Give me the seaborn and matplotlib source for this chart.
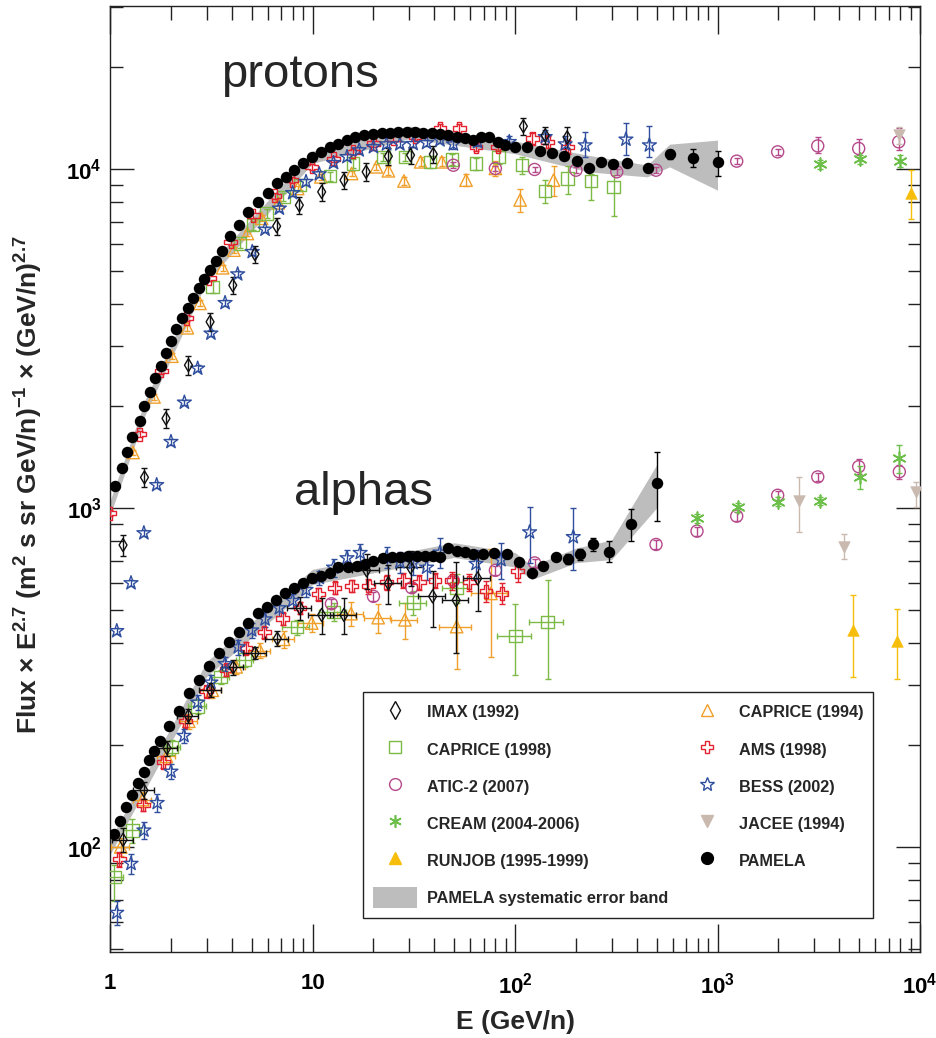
import numpy as np
import pandas as pd
import matplotlib
matplotlib.use("Agg")
import matplotlib.pyplot as plt
from matplotlib.lines import Line2D
from matplotlib.patches import Patch
from matplotlib.ticker import LogLocator, FuncFormatter, NullFormatter
import seaborn as sns

# ---------------------------------------------------------------- data
# PAMELA protons
p_pam_E = [1.06, 1.14, 1.21, 1.29, 1.40, 1.48, 1.58, 1.67, 1.78, 1.88, 2.00, 2.12, 2.26, 2.42,
           2.58, 2.74, 2.91, 3.12, 3.34, 3.56, 3.91, 4.35, 4.82, 5.40, 6.01, 6.70, 7.40, 8.10,
           9.01, 9.98, 11.0, 12.2, 13.4, 14.8, 16.2, 18.0, 20.0, 22.0, 24.2, 26.5, 29.2, 32.1,
           35.3, 38.8, 42.6, 46.9, 51.5, 56.6, 61.8, 67.9, 74.4, 82.2, 89.6, 100.3, 114.6, 133,
           152, 174, 202, 233, 266, 306, 359, 452, 582, 755, 1009]
p_pam_F = [1161, 1312, 1463, 1619, 1805, 2000, 2198, 2417, 2624, 2866, 3110, 3373, 3634, 3890,
           4162, 4457, 4742, 5035, 5354, 5750, 6339, 6839, 7465, 7994, 8494, 9094, 9471, 9932,
           10420, 10850, 11220, 11610, 11850, 12180, 12420, 12590, 12680, 12760, 12760, 12850,
           12850, 12850, 12760, 12760, 12680, 12590, 12420, 12330, 12180, 12420, 12420, 12010,
           11770, 11610, 11610, 11300, 11140, 10920, 10560, 10070, 10490, 10340, 10420, 10070,
           11070, 10770, 10490]
p_pam_dlo = [350, 630, 950]          # errors of the last three points
p_pam_dhi = [350, 690, 810]
p_band_E = [1.0, 1.5, 3.0, 10, 30, 100, 230, 450, 580, 1000]
p_band_lo = [950, 1900, 4650, 10400, 12300, 11100, 9820, 9490, 10160, 8670]
p_band_hi = [1050, 2100, 5100, 11300, 13400, 12100, 10990, 10280, 11850, 12180]

# PAMELA alphas
a_pam_E = [1.05, 1.12, 1.20, 1.29, 1.37, 1.47, 1.56, 1.65, 1.77, 1.96, 2.20, 2.46, 2.76, 3.09,
           3.46, 3.88, 4.35, 4.82, 5.36, 5.94, 6.60, 7.32, 8.10, 9.01, 9.91, 11.0, 12.2, 13.4,
           14.9, 16.5, 18.2, 20.0, 22.2, 24.6, 27.0, 29.7, 32.7, 35.9, 39.5, 42.6, 46.9, 51.5,
           56.6, 61.8, 69.2, 79.1, 91.0, 105, 121, 138, 159, 183, 210, 242, 290, 374, 503]
a_pam_F = [109, 119, 131, 142, 154, 167, 180, 192, 206, 228, 252, 284, 312, 343, 374, 402, 430,
           458, 490, 509, 535, 563, 582, 600, 623, 631, 643, 668, 668, 676, 685, 699, 712, 716,
           716, 720, 724, 724, 720, 716, 762, 748, 742, 730, 730, 739, 730, 693, 643, 673, 715,
           708, 730, 781, 744, 897, 1185]
a_pam_dlo = [25, 28, 35, 51, 96, 269]   # errors of the last six points
a_pam_dhi = [25, 28, 35, 57, 96, 277]
a_band_E = [1.0, 3.0, 10, 50, 100, 121, 200, 300, 500]
a_band_lo = [95, 318, 595, 715, 670, 615, 690, 705, 1000]
a_band_hi = [105, 352, 660, 790, 740, 675, 762, 805, 1340]

# IMAX (1992)
p_imax_E = [1.16, 1.48, 1.89, 2.44, 3.12, 4.04, 5.20, 6.65, 8.61, 11.1, 14.3, 18.4, 23.7, 30.5, 39.5, 110, 141, 181]
p_imax_F = [778, 1232, 1839, 2641, 3545, 4545, 5614, 6790, 7830, 8570, 9280, 9820, 10920, 11000, 11070, 13390, 12590, 12410]
p_imax_err = [0.07, 0.065, 0.065, 0.065, 0.06, 0.06, 0.06, 0.06, 0.06, 0.06, 0.06, 0.06, 0.06, 0.06, 0.06, 0.06, 0.06, 0.07]
a_imax_E = [1.16, 1.47, 1.91, 2.44, 3.14, 4.06, 5.20, 6.70, 8.67, 11.1, 14.3, 18.5, 23.7, 30.5, 39.2, 51.2, 65.4]
a_imax_F = [105, 147, 196, 244, 291, 339, 373, 412, 507, 484, 484, 655, 600, 668, 549, 535, 620]
a_imax_err = [0.08, 0.06, 0.05, 0.05, 0.05, 0.05, 0.04, 0.05, 0.08, 0.12, 0.12, 0.12, 0.13, 0.12, 0.19, 0.3, 0.2]
a_imax_xerr = [0.12, 0.12, 0.12, 0.12, 0.12, 0.12, 0.13, 0.13, 0.14, 0.14, 0.15, 0.15, 0.15, 0.15, 0.15, 0.15, 0.15]

# CAPRICE (1994)
p_c94_E = [1.30, 1.65, 2.02, 2.41, 2.78, 3.60, 4.09, 4.77, 5.61, 6.78, 8.45, 11.0, 15.6, 20.7, 23.7, 28.3, 34.2, 43.5, 57.3, 80.0, 106, 155]
p_c94_F = [1459, 2128, 2806, 3404, 4018, 5117, 5768, 6459, 7160, 7955, 8770, 9490, 9710, 10160, 9890, 9230, 10510, 10510, 9280, 10050, 8110, 9280]
p_c94_err = [0.02, 0.02, 0.02, 0.02, 0.02, 0.02, 0.02, 0.02, 0.02, 0.02, 0.02, 0.02, 0.02, 0.02, 0.03, 0.03, 0.03, 0.03, 0.04, 0.05, 0.08, 0.10]
a_c94_E = [1.13, 1.45, 1.90, 2.45, 3.20, 4.20, 5.50, 7.20, 9.91, 15.5, 21.1, 28.6, 51.5, 76]
a_c94_F = [100, 138, 185, 235, 290, 340, 380, 410, 458, 488, 475, 468, 447, 560]
a_c94_err = [0.06, 0.05, 0.05, 0.05, 0.05, 0.05, 0.05, 0.06, 0.06, 0.08, 0.1, 0.12, 0.25, 0.35]
a_c94_xerr = [0.1, 0.1, 0.1, 0.1, 0.1, 0.1, 0.12, 0.12, 0.14, 0.15, 0.15, 0.15, 0.18, 0.2]

# CAPRICE (1998)
p_c98_E = [3.21, 4.39, 5.10, 5.94, 7.18, 8.67, 12.2, 15.9, 22.4, 28.6, 38.0, 48.7, 64.2, 83.0, 108, 141, 182, 237, 307]
p_c98_F = [4498, 6038, 6840, 7395, 8280, 8970, 9530, 10390, 10870, 10870, 10510, 10680, 10390, 10870, 10270, 8630, 9390, 9230, 8870]
p_c98_lo = [0.04, 0.03, 0.03, 0.03, 0.03, 0.03, 0.03, 0.03, 0.03, 0.03, 0.04, 0.04, 0.04, 0.05, 0.06, 0.08, 0.10, 0.12, 0.18]
p_c98_hi = [0.04, 0.03, 0.03, 0.03, 0.03, 0.03, 0.03, 0.03, 0.03, 0.03, 0.04, 0.04, 0.04, 0.05, 0.06, 0.08, 0.09, 0.05, 0.08]
a_c98_E = [1.05, 1.29, 2.02, 2.71, 3.52, 4.64, 8.36, 12.7, 31.5, 51.5, 100.4, 145]
a_c98_F = [81.7, 112, 197, 260, 318, 357, 445, 494, 526, 582, 419, 461]
a_c98_lo = [0.15, 0.08, 0.05, 0.05, 0.05, 0.05, 0.05, 0.06, 0.08, 0.1, 0.23, 0.32]
a_c98_hi = [0.08, 0.08, 0.05, 0.05, 0.05, 0.05, 0.05, 0.06, 0.08, 0.1, 0.24, 0.33]
a_c98_xerr = [0.1, 0.1, 0.1, 0.1, 0.1, 0.1, 0.15, 0.15, 0.15, 0.15, 0.19, 0.19]

# ATIC-2 (2007)
p_atic_E = [49.6, 80.0, 125, 200, 318, 497, 1244, 1982, 3126, 4980, 7850]
p_atic_F = [10270, 10050, 9980, 9930, 9820, 9930, 10560, 11250, 11710, 11510, 12040]
p_atic_lo = [0.02, 0.02, 0.02, 0.02, 0.02, 0.02, 0.02, 0.02, 0.05, 0.045, 0.055]
p_atic_hi = [0.02, 0.02, 0.02, 0.02, 0.02, 0.02, 0.02, 0.02, 0.065, 0.065, 0.095]
a_atic_E = [12.4, 20.0, 30.9, 49.6, 80.0, 125, 497, 792, 1244, 1982, 3126, 4980, 7905]
a_atic_F = [522, 549, 582, 611, 655, 689, 781, 855, 947, 1091, 1236, 1325, 1280]
a_atic_err = [0.03, 0.03, 0.03, 0.03, 0.03, 0.03, 0.03, 0.03, 0.03, 0.03, 0.03, 0.05, 0.05]

# CREAM (2004-2006)
p_cream_E = [3208, 5058, 7965]
p_cream_F = [10340, 10680, 10560]
p_cream_err = [0.03, 0.03, 0.04]
a_cream_E = [792, 1257, 1995, 3208, 5058, 7905]
a_cream_F = [934, 1005, 1044, 1050, 1236, 1403]
a_cream_err = [0.03, 0.03, 0.03, 0.03, 0.08, 0.095]

# RUNJOB (1995-1999)
p_runjob_E = [9030]
p_runjob_F = [8510]
p_runjob_lo = [0.16]
p_runjob_hi = [0.17]
a_runjob_E = [4650, 7670]
a_runjob_F = [436, 406]
a_runjob_lo = [0.27, 0.23]
a_runjob_hi = [0.27, 0.24]

# JACEE (1994)
p_jacee_E = [7905]
p_jacee_F = [12590]
p_jacee_lo = [0.055]
p_jacee_hi = [0.06]
a_jacee_E = [2518, 4230, 9550]
a_jacee_F = [1050, 767, 1119]
a_jacee_lo = [0.19, 0.08, 0.1]
a_jacee_hi = [0.18, 0.09, 0.07]

# AMS (1998)
p_ams_E = [1.00, 1.40, 1.79, 2.39, 3.09, 3.95, 5.1, 6.5, 7.89, 9.91, 12.7, 15.9, 20.0, 25.1, 32.1, 42.6, 53.1, 64.2, 82.2, 122, 145, 182]
p_ams_F = [966, 1653, 2541, 3630, 4766, 6100, 7300, 8350, 9280, 10160, 10740, 11250, 11900, 12320, 12450, 13190, 13190, 11630, 11630, 12320, 12040, 11630]
p_ams_err = [0.02, 0.02, 0.02, 0.02, 0.02, 0.02, 0.02, 0.02, 0.02, 0.02, 0.02, 0.02, 0.02, 0.02, 0.02, 0.03, 0.03, 0.03, 0.03, 0.04, 0.04, 0.05]
a_ams_E = [1.11, 1.46, 1.83, 2.35, 3.00, 3.74, 4.69, 5.78, 7.13, 8.67, 10.7, 12.9, 15.6, 18.9, 23.2, 28.1, 33.7, 40.3, 48.7, 59.5, 71.9, 86.3, 103]
a_ams_F = [92.0, 133, 178, 235, 288, 334, 386, 430, 472, 507, 557, 582, 589, 589, 604, 611, 604, 611, 611, 604, 568, 560, 651]
a_ams_err = [0.05, 0.04, 0.04, 0.04, 0.04, 0.04, 0.04, 0.04, 0.04, 0.04, 0.04, 0.04, 0.04, 0.05, 0.05, 0.05, 0.05, 0.05, 0.06, 0.06, 0.07, 0.07, 0.07]

# BESS (2002)
p_bess_E = [1.08, 1.27, 1.47, 1.70, 2.00, 2.33, 2.71, 3.15, 3.70, 4.27, 5.04, 5.83, 6.86, 7.98, 9.29, 10.8, 12.7,
            14.8, 17.0, 20.0, 23.2, 27.0, 31.4, 36.6, 42.6, 49.6, 65.4, 93.7, 141, 177, 222, 353, 461]
p_bess_F = [434, 601, 844, 1170, 1569, 2050, 2583, 3277, 4032, 4900, 5703, 6640, 7660, 8510, 9180, 9670, 10440,
            10870, 11380, 11630, 11850, 11850, 11880, 11960, 12180, 11850, 12040, 12040, 12450, 11850, 11770, 12240, 11770]
p_bess_lo = [0.02, 0.02, 0.02, 0.02, 0.02, 0.02, 0.02, 0.02, 0.02, 0.02, 0.02, 0.02, 0.02, 0.02, 0.02, 0.02, 0.02,
             0.02, 0.02, 0.02, 0.02, 0.02, 0.02, 0.02, 0.02, 0.03, 0.03, 0.04, 0.05, 0.06, 0.08, 0.10, 0.08]
p_bess_hi = [0.02, 0.02, 0.02, 0.02, 0.02, 0.02, 0.02, 0.02, 0.02, 0.02, 0.02, 0.02, 0.02, 0.02, 0.02, 0.02, 0.02,
             0.02, 0.02, 0.02, 0.02, 0.02, 0.02, 0.02, 0.02, 0.03, 0.03, 0.04, 0.05, 0.06, 0.09, 0.12, 0.14]
a_bess_E = [1.08, 1.27, 1.47, 1.71, 2.00, 2.32, 2.71, 3.15, 3.70, 4.30, 5.01, 5.83, 6.86, 7.98, 9.29, 10.8, 12.7,
            14.8, 17.2, 23.2, 27.0, 31.4, 36.6, 42.6, 64.2, 85.3, 118, 194]
a_bess_F = [64.0, 89.3, 112, 135, 167, 213, 267, 306, 347, 389, 436, 470, 507, 533, 574, 623, 668, 712, 738,
            716, 693, 689, 668, 740, 685, 703, 849, 822]
a_bess_lo = [0.08, 0.07, 0.06, 0.06, 0.05, 0.05, 0.05, 0.05, 0.05, 0.05, 0.05, 0.05, 0.05, 0.05, 0.05, 0.05, 0.06,
             0.06, 0.06, 0.07, 0.07, 0.08, 0.08, 0.1, 0.1, 0.12, 0.19, 0.2]
a_bess_hi = [0.08, 0.07, 0.06, 0.06, 0.05, 0.05, 0.05, 0.05, 0.05, 0.05, 0.05, 0.05, 0.05, 0.05, 0.05, 0.05, 0.06,
             0.06, 0.06, 0.07, 0.07, 0.08, 0.08, 0.1, 0.1, 0.12, 0.19, 0.22]

x_ticks = [1, 10, 100, 1000, 10000]
x_ticklabels = ["1", "10", r"$10^{2}$", r"$10^{3}$", r"$10^{4}$"]
legend_labels = ["IMAX (1992)", "CAPRICE (1998)", "ATIC-2 (2007)", "CREAM (2004-2006)",
                 "RUNJOB (1995-1999)", "PAMELA systematic error band",
                 "CAPRICE (1994)", "AMS (1998)", "BESS (2002)", "JACEE (1994)", "PAMELA"]

# ---------------------------------------------------------------- style
sns.set_theme(style="ticks")
plt.rcParams["font.family"] = ["Liberation Sans", "DejaVu Sans"]
plt.rcParams["mathtext.fontset"] = "custom"
plt.rcParams["mathtext.rm"] = "Liberation Sans:bold"
plt.rcParams["mathtext.it"] = "Liberation Sans:bold"
plt.rcParams["mathtext.bf"] = "Liberation Sans:bold"
plt.rcParams["mathtext.default"] = "rm"

C_IMAX = "#111111"
C_C94 = "#F0A02A"
C_C98 = "#7DBA45"
C_ATIC = "#B5498A"
C_CREAM = "#6CBF48"
C_RUNJOB = "#F6BE0A"
C_JACEE = "#C9B9AF"
C_AMS = "#E2232F"
C_BESS = "#2F4E9E"
C_PAM = "#000000"
C_BAND = "#BDBDBD"

fig = plt.figure(figsize=(9.36, 10.38), dpi=100)
ax = fig.add_axes([110 / 936, 1 - 952 / 1038, 810 / 936, 946 / 1038])
ax.set_xscale("log")
ax.set_yscale("log")
ax.set_xlim(1, 1e4)
ax.set_ylim(49, 30300)


def plot_set(E, F, color, marker, size, style="open", lo=None, hi=None, xlo=None, xhi=None, z=3, lw=1.0):
    E = np.asarray(E, float)
    F = np.asarray(F, float)
    if lo is not None or xlo is not None:
        yerr = None if lo is None else [F * np.asarray(lo), F * np.asarray(hi)]
        xerr = None if xlo is None else [E * np.asarray(xlo), E * np.asarray(xhi)]
        ax.errorbar(E, F, yerr=yerr, xerr=xerr, fmt="none", ecolor=color, elinewidth=1.0,
                    capsize=2.2, capthick=1.0, zorder=z)
    df = pd.DataFrame({"E": E, "F": F})
    kw = dict(data=df, x="E", y="F", ax=ax, marker=marker, s=size, legend=False, zorder=z + 0.2)
    if style == "filled":
        sns.scatterplot(color=color, edgecolor=color, linewidth=0.4, **kw)
    elif style == "line":
        sns.scatterplot(color=color, linewidth=1.2, **kw)
    else:
        sns.scatterplot(color=color, facecolor="none", edgecolor=color, linewidth=lw, **kw)


# systematic bands
ax.fill_between(p_band_E, p_band_lo, p_band_hi, color=C_BAND, lw=0, zorder=1)
ax.fill_between(a_band_E, a_band_lo, a_band_hi, color=C_BAND, lw=0, zorder=1)

ASTER = (6, 2, 0)
# other experiments
plot_set(p_c94_E, p_c94_F, C_C94, "^", 80, lo=p_c94_err, hi=p_c94_err, z=3)
plot_set(a_c94_E, a_c94_F, C_C94, "^", 80, lo=a_c94_err, hi=a_c94_err, xlo=a_c94_xerr, xhi=a_c94_xerr, z=3)
plot_set(p_c98_E, p_c98_F, C_C98, "s", 80, lo=p_c98_lo, hi=p_c98_hi, z=3.1)
plot_set(a_c98_E, a_c98_F, C_C98, "s", 80, lo=a_c98_lo, hi=a_c98_hi, xlo=a_c98_xerr, xhi=a_c98_xerr, z=3.1)
plot_set(p_atic_E, p_atic_F, C_ATIC, "o", 75, lo=p_atic_lo, hi=p_atic_hi, z=3.2)
plot_set(a_atic_E, a_atic_F, C_ATIC, "o", 75, lo=a_atic_err, hi=a_atic_err, z=3.2)
plot_set(p_cream_E, p_cream_F, C_CREAM, ASTER, 85, style="line", lo=p_cream_err, hi=p_cream_err, z=3.3)
plot_set(a_cream_E, a_cream_F, C_CREAM, ASTER, 85, style="line", lo=a_cream_err, hi=a_cream_err, z=3.3)
plot_set(p_runjob_E, p_runjob_F, C_RUNJOB, "^", 70, style="filled", lo=p_runjob_lo, hi=p_runjob_hi, z=3.3)
plot_set(a_runjob_E, a_runjob_F, C_RUNJOB, "^", 70, style="filled", lo=a_runjob_lo, hi=a_runjob_hi, z=3.3)
plot_set(p_jacee_E, p_jacee_F, C_JACEE, "v", 70, style="filled", lo=p_jacee_lo, hi=p_jacee_hi, z=3.3)
plot_set(a_jacee_E, a_jacee_F, C_JACEE, "v", 70, style="filled", lo=a_jacee_lo, hi=a_jacee_hi, z=3.3)
plot_set(p_ams_E, p_ams_F, C_AMS, "P", 85, lo=p_ams_err, hi=p_ams_err, z=3.4)
plot_set(a_ams_E, a_ams_F, C_AMS, "P", 85, lo=a_ams_err, hi=a_ams_err, z=3.4)
plot_set(p_bess_E, p_bess_F, C_BESS, "*", 110, lo=p_bess_lo, hi=p_bess_hi, z=3.5)
plot_set(a_bess_E, a_bess_F, C_BESS, "*", 110, lo=a_bess_lo, hi=a_bess_hi, z=3.5)
plot_set(p_imax_E, p_imax_F, C_IMAX, "d", 45, lo=p_imax_err, hi=p_imax_err, z=3.6)
plot_set(a_imax_E, a_imax_F, C_IMAX, "d", 45, lo=a_imax_err, hi=a_imax_err, xlo=a_imax_xerr, xhi=a_imax_xerr, z=3.6)

# PAMELA
ax.errorbar(p_pam_E[-3:], p_pam_F[-3:], yerr=[p_pam_dlo, p_pam_dhi], fmt="none", ecolor=C_PAM,
            elinewidth=1.0, capsize=2.5, capthick=1.0, zorder=5)
ax.errorbar(a_pam_E[-6:], a_pam_F[-6:], yerr=[a_pam_dlo, a_pam_dhi], fmt="none", ecolor=C_PAM,
            elinewidth=1.0, capsize=2.5, capthick=1.0, zorder=5)
sns.scatterplot(x=p_pam_E, y=p_pam_F, ax=ax, marker="o", s=68, color=C_PAM, edgecolor=C_PAM,
                linewidth=0, legend=False, zorder=6)
sns.scatterplot(x=a_pam_E, y=a_pam_F, ax=ax, marker="o", s=68, color=C_PAM, edgecolor=C_PAM,
                linewidth=0, legend=False, zorder=6)

# ---------------------------------------------------------------- axes cosmetics
for sp in ax.spines.values():
    sp.set_visible(True)
    sp.set_color("#222222")
    sp.set_linewidth(1.0)

ax.xaxis.set_major_locator(LogLocator(base=10, numticks=20))
ax.xaxis.set_minor_locator(LogLocator(base=10, subs=np.arange(2, 10), numticks=100))
ax.yaxis.set_major_locator(LogLocator(base=10, numticks=20))
ax.yaxis.set_minor_locator(LogLocator(base=10, subs=np.arange(2, 10), numticks=100))
ax.set_xticks(x_ticks)
ax.set_xticklabels(x_ticklabels)
ax.xaxis.set_minor_formatter(NullFormatter())
ax.yaxis.set_major_formatter(FuncFormatter(lambda v, p: r"$10^{%d}$" % int(round(np.log10(v)))))
ax.yaxis.set_minor_formatter(NullFormatter())
ax.set_xlim(1, 1e4)
ax.set_ylim(49, 30300)

ax.tick_params(which="both", direction="in", top=True, right=True, color="#222222", width=1.0)
ax.tick_params(axis="x", which="major", length=20, pad=15, labelsize=16)
ax.tick_params(axis="x", which="minor", length=10)
ax.tick_params(axis="y", which="major", length=17, pad=6, labelsize=16)
ax.tick_params(axis="y", which="minor", length=9)
for lab in ax.get_xticklabels() + ax.get_yticklabels():
    lab.set_fontweight("bold")
    lab.set_color("black")

ax.set_xlabel("E (GeV/n)", fontsize=19, fontweight="bold", va="center")
ax.xaxis.set_label_coords(0.5, (952 - 1022) / 946)
ax.set_ylabel(r"Flux $\times$ E$^{2.7}$ (m$^{2}$ s sr GeV/n)$^{-1}$ $\times$ (GeV/n)$^{2.7}$",
              fontsize=19, fontweight="bold", va="center")
ax.yaxis.set_label_coords((29 - 110) / 810, (952 - 485) / 946)

ax.text((300 - 110) / 810, (952 - 87) / 946, "protons", transform=ax.transAxes,
        ha="center", va="baseline", fontsize=34)
ax.text((364 - 110) / 810, (952 - 505) / 946, "alphas", transform=ax.transAxes,
        ha="center", va="baseline", fontsize=34)

# ---------------------------------------------------------------- legend
def mk(marker, color, style="open", ms=7.5):
    if style == "filled":
        return Line2D([], [], ls="none", marker=marker, ms=ms, color=color, mec=color)
    if style == "line":
        return Line2D([], [], ls="none", marker=marker, ms=ms, color=color, mew=1.2)
    return Line2D([], [], ls="none", marker=marker, ms=ms, mfc="none", mec=color, mew=1.0)


handles = [
    mk("d", C_IMAX, ms=9),
    mk("s", C_C98, ms=9),
    mk("o", C_ATIC, ms=8.5),
    mk(ASTER, C_CREAM, style="line", ms=9),
    mk("^", C_RUNJOB, style="filled", ms=8.5),
    Patch(facecolor=C_BAND, edgecolor="none"),
    mk("^", C_C94, ms=9),
    mk("P", C_AMS, ms=9),
    mk("*", C_BESS, ms=10.5),
    mk("v", C_JACEE, style="filled", ms=8.5),
    mk("o", C_PAM, style="filled", ms=8.5),
]
leg = ax.legend(handles, legend_labels, ncol=2, loc="lower left",
                bbox_to_anchor=((363 - 110) / 810, (952 - 918) / 946), bbox_transform=ax.transAxes,
                frameon=True, fancybox=False, framealpha=1, edgecolor="#222222",
                prop={"weight": "bold", "size": 11.7},
                handlelength=2.75, handleheight=1.6, handletextpad=0.6, columnspacing=1.0,
                borderpad=0.6, labelspacing=1.0, borderaxespad=0)
leg.get_frame().set_linewidth(1.0)
leg.set_zorder(10)

fig.savefig("out.png", dpi=100)
